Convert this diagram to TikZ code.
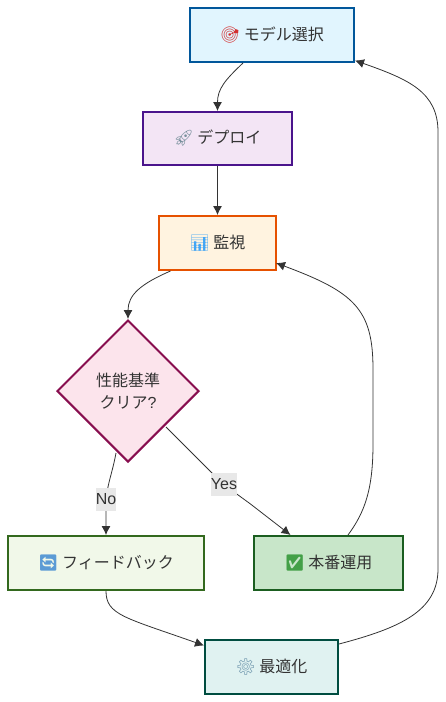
\documentclass[tikz,border=0pt]{standalone}
\usepackage{fontspec}
\usetikzlibrary{arrows.meta,calc,shapes.geometric}
\setmainfont{Liberation Sans}
\newfontfamily\jp{Noto Sans CJK JP}
\newfontfamily\emo{Noto Emoji}
\definecolor{ink}{HTML}{333333}
\definecolor{fA}{HTML}{E1F5FE}\definecolor{sA}{HTML}{01579B}
\definecolor{fB}{HTML}{F3E5F5}\definecolor{sB}{HTML}{4A148C}
\definecolor{fC}{HTML}{FFF3E0}\definecolor{sC}{HTML}{E65100}
\definecolor{fD}{HTML}{FCE4EC}\definecolor{sD}{HTML}{880E4F}
\definecolor{fE}{HTML}{F1F8E9}\definecolor{sE}{HTML}{33691E}
\definecolor{fF}{HTML}{C8E6C9}\definecolor{sF}{HTML}{1B5E20}
\definecolor{fG}{HTML}{E0F2F1}\definecolor{sG}{HTML}{004D40}
\newcommand{\ico}[2]{\textcolor[HTML]{#1}{{\emo #2}}}
\tikzset{
  x=1pt,y=-1pt,
  base/.style={draw,line width=2pt,text=ink,font=\fontsize{16}{22}\selectfont\jp,inner sep=0pt,align=center},
  flowbox/.style={base,rectangle,minimum height=54pt},
  decision/.style={base,diamond,aspect=1,minimum width=142pt,minimum height=142pt},
  link/.style={draw=ink,line width=.8pt,-{Latex[length=9pt,width=9pt]}},
  edgelabel/.style={fill=black!9,text=ink,font=\fontsize{16}{20}\selectfont,inner sep=0pt,minimum height=23pt}
}
\begin{document}
\begin{tikzpicture}
\useasboundingbox (0,0) rectangle (446,702);
\node[flowbox,fill=fA,draw=sA,minimum width=164pt] (a) at (272,35) {\ico{D32F2F}{🎯} モデル選択};
\node[flowbox,fill=fB,draw=sB,minimum width=149pt,minimum height=53pt] (b) at (217.5,138.5) {\ico{78909C}{🚀} デプロイ};
\node[flowbox,fill=fC,draw=sC,minimum width=117pt] (c) at (217.5,243) {\ico{42A5F5}{📊} 監視};
\node[decision,fill=fD,draw=sD] (d) at (128,391) {性能基準\\クリア{\rmfamily ?}};
\node[flowbox,fill=fE,draw=sE,minimum width=196pt] (e) at (106,563) {\ico{5B9BD5}{🔄} フィードバック};
\node[flowbox,fill=fF,draw=sF,minimum width=149pt] (f) at (328.5,563) {\ico{43A047}{✅} 本番運用};
\node[flowbox,fill=fG,draw=sG,minimum width=133pt] (g) at (271.5,667) {\ico{6F97AD}{⚙} 最適化};
% connectors
\path[link] ([xshift=-29pt]a.south) .. controls +(-18,17) and +(0,-22) .. (b.north);
\path[link] (b.south) -- (c.north);
\path[link] ([xshift=-47pt]c.south) .. controls +(-30,13) and +(0,-24) .. (d.north);
\path[link] ($(d.south)+(-12,-10)$) .. controls +(-4,22) and +(0,-18) .. ($(e.north)+(0,-30)$) -- (e.north);
\path[link] ($(d.east)+(-34,36)$) -- ($(d.east)+(11,81)$) .. controls +(14,14) and +(-15,-11) .. ($(f.north)+(-78,-31)$) -- ($(f.north)+(-38,0)$);
\path[link] ($(f.north)+(19.5,0)$) .. controls +(17,-23) and +(0,45) .. ($(f.north)+(44.5,-91)$) -- ($(f.north)+(44.5,-166)$) .. controls +(0,-60) and +(78,29) .. ([yshift=8pt,xshift=-1pt]c.south east);
\path[link] (e.south) .. controls +(0,24) and +(-79,-28) .. ([yshift=-6.5pt]g.north west);
\path[link] ([yshift=-5pt]g.north east) .. controls +(61,-16) and +(0,42) .. ($(g.north east)+(99,-70)$) -- ($(a.south east)+(83,69)$) .. controls +(0,-40) and +(54,19) .. ([yshift=2.5pt]a.south east);
% edge labels
\node[edgelabel,minimum width=20pt] (no) at (106,499) {No};
\node[edgelabel,minimum width=26pt] (yes) at (224,484.5) {Yes};
\end{tikzpicture}
\end{document}
